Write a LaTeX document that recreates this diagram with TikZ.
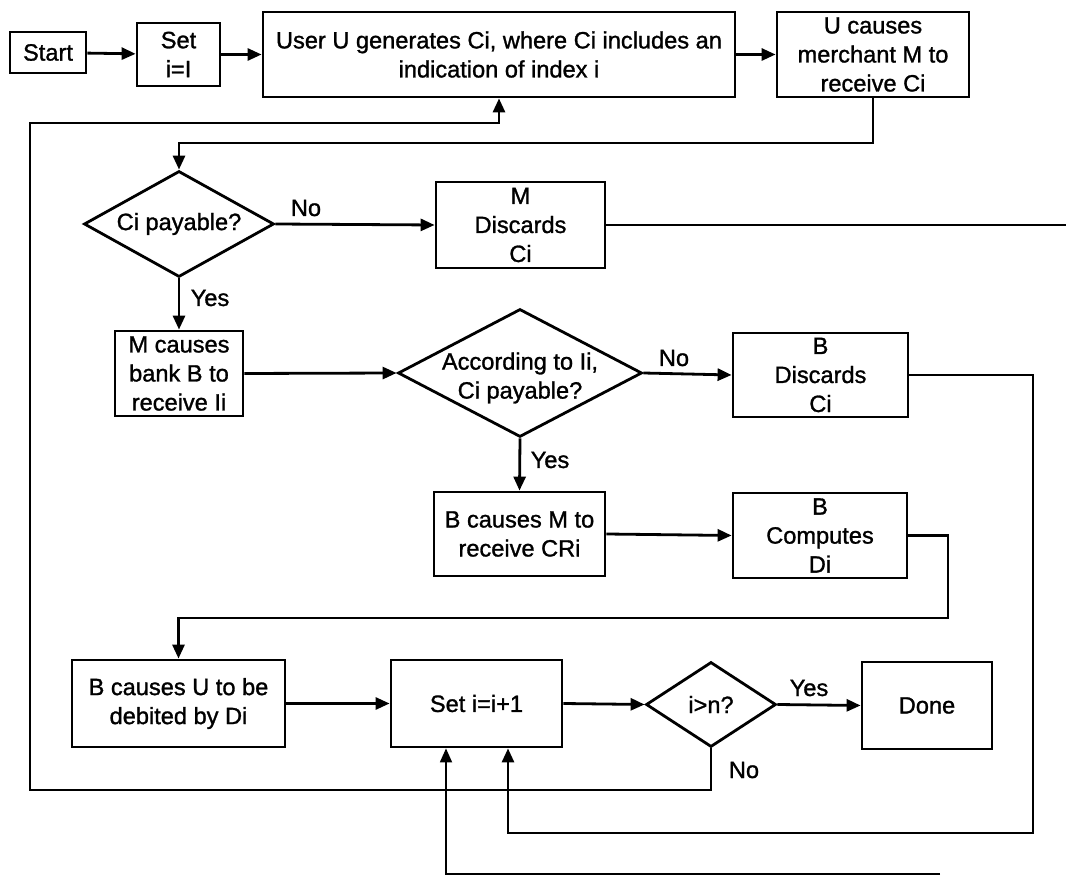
\documentclass[tikz,border=0pt]{standalone}
\usepackage{fontspec}
\setmainfont{Liberation Sans}[FakeBold=1.2]
\usetikzlibrary{shapes.geometric,arrows.meta}
\begin{document}
\begin{tikzpicture}[x=0.5pt,y=-0.5pt,
  every node/.style={font=\fontsize{11.8}{14.5}\selectfont},
  box/.style={draw, line width=1.4pt, align=center, inner sep=0pt},
  dia/.style={draw, diamond, line width=1.4pt, inner sep=0pt},
  diatext/.style={align=center, inner sep=0pt},
  lab/.style={inner sep=0pt},
  arr/.style={line width=1.4pt, -{Triangle[length=7pt,width=6pt]}},
  plain/.style={line width=1.4pt},
  thinarr/.style={line width=0.9pt, -{Triangle[length=7pt,width=6pt]}}]
\useasboundingbox (0,0) rectangle (1066,876);
\fill[white] (0,0) rectangle (1066,876);

% nodes
\node[box, minimum width=38pt, minimum height=20.5pt] (start) at (48,52.5) {Start};
\node[box, minimum width=41.5pt, minimum height=31.5pt] (set1) at (178.5,54.5) {Set\\i=I};
\node[box, minimum width=236pt, minimum height=42.5pt] (user) at (499,54.5) {User U generates Ci, where Ci includes an\\indication of index i};
\node[box, minimum width=96pt, minimum height=42.5pt] (ucause) at (873,54.5) {U causes\\merchant M to\\receive Ci};
\node[dia, minimum width=95pt, minimum height=53pt, label={[diatext]center:Ci payable?}] (ci) at (179,224) {};
\node[box, minimum width=84.5pt, minimum height=43pt] (mdisc) at (520.5,225) {M\\Discards\\Ci};
\node[box, minimum width=64pt, minimum height=42.5pt] (mcause) at (179,373.5) {M causes\\bank B to\\receive Ii};
\node[dia, minimum width=122pt, minimum height=64pt, label={[diatext, yshift=-2.5pt]center:{According to Ii,\\Ci payable?}}] (acc) at (520,373) {};
\node[box, minimum width=87.5pt, minimum height=42pt] (bdisc) at (820.5,375) {B\\Discards\\Ci};
\node[box, minimum width=85.5pt, minimum height=42pt] (bcausem) at (519.5,534) {B causes M to\\receive CRi};
\node[box, minimum width=87pt, minimum height=42.5pt] (bcomp) at (820,535.5) {B\\Computes\\Di};
\node[box, minimum width=106.5pt, minimum height=43.5pt] (bcauseu) at (178.5,703.5) {B causes U to be\\debited by Di};
\node[box, minimum width=85.5pt, minimum height=43.5pt] (seti) at (476.5,703.5) {Set i=i+1};
\node[dia, minimum width=65pt, minimum height=42.5pt, label={[diatext]center:i>n?}] (ign) at (711,704.5) {};
\node[box, minimum width=65pt, minimum height=43.5pt] (done) at (927,705.5) {Done};

% labels
\node[lab] (l1) at (306,208) {No};
\node[lab] (l2) at (210,298) {Yes};
\node[lab] (l3) at (674,358) {No};
\node[lab] (l4) at (550,460) {Yes};
\node[lab] (l5) at (809,688) {Yes};
\node[lab] (l6) at (744,770) {No};

% helper coordinates
\coordinate (c1) at (873,143);
\coordinate (c2) at (30,790);
\coordinate (c3) at (499,123);
\coordinate (redge) at (1066,226);
\coordinate (c4) at (948,618);
\coordinate (c5) at (1033,833);
\coordinate (c6) at (508,0);
\coordinate (c7) at (940,874);
\coordinate (c8) at (446,0);

% connectors
\draw[arr] (start) -- (set1);
\draw[arr] (set1) -- (user);
\draw[arr] (user) -- (ucause);
\draw[arr] (ucause.south) -- (c1) -| (ci.north);
\draw[arr] (ci.east) -- (mdisc.west);
\draw[plain] (mdisc.east) -- (mdisc.east -| redge);
\draw[arr] (ci.south) -- (mcause.north);
\draw[arr] (mcause.east) -- (acc.west);
\draw[arr] (acc.east) -- (bdisc.west);
\draw[arr] (acc.south) -- (bcausem.north);
\draw[arr] (bcausem.east) -- (bcomp.west);
\draw[arr] (bcomp.east) -| (c4) -| (bcauseu.north);
\draw[arr] (bcauseu.east) -- (seti.west);
\draw[arr] (seti.east) -- (ign.west);
\draw[arr] (ign.east) -- (done.west);
\draw[arr] (ign.south) |- (c2) |- (c3) -- (user.south);
\draw[arr] (bdisc.east) -| (c5) -| (seti.south -| c6);
\draw[thinarr] (c7) -| (seti.south -| c8);
\end{tikzpicture}
\end{document}
